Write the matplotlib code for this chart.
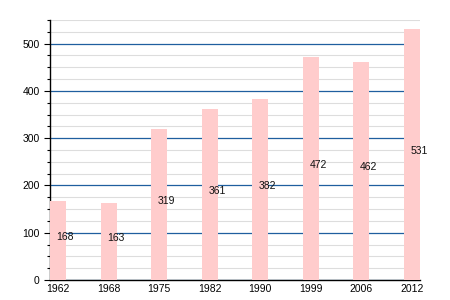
import matplotlib
matplotlib.use("Agg")
import matplotlib.pyplot as plt
from matplotlib.ticker import MultipleLocator

years = ["1962", "1968", "1975", "1982", "1990", "1999", "2006", "2012"]
values = [168, 163, 319, 361, 382, 472, 462, 531]

plt.rcParams['font.family'] = ['Liberation Sans', 'DejaVu Sans']

fig = plt.figure(figsize=(4.5, 3), dpi=100)
ax = fig.add_axes([50/450, 20/300, 370/450, 260/300])

x = list(range(len(years)))
ax.bar(x, values, width=0.316, color="#ffcccc", zorder=3)
for xi, v in zip(x, values):
    ax.annotate(str(v), (xi, v / 2), xytext=(-1, 2.5), textcoords="offset points",
                ha="left", va="center", fontsize=7.5, color="#111111", zorder=4)

ax.set_xlim(-0.158, len(years) - 1 + 0.158)
ax.set_ylim(0, 550)
ax.set_xticks(x)
ax.set_xticklabels(years)
ax.yaxis.set_major_locator(MultipleLocator(100))
ax.yaxis.set_minor_locator(MultipleLocator(25))
ax.grid(axis="y", which="minor", color="#dddddd", linewidth=0.8, zorder=1)
ax.grid(axis="y", which="major", color="#1f5f9f", linewidth=0.9, zorder=2)
ax.set_axisbelow(True)
for s in ["top", "right"]:
    ax.spines[s].set_visible(False)
ax.spines["left"].set_linewidth(1.0)
ax.spines["bottom"].set_linewidth(1.0)
ax.tick_params(axis="both", labelsize=7.5, length=4, width=0.8, colors="black")
ax.tick_params(axis="x", length=0, pad=3)
ax.tick_params(axis="y", which="minor", length=2.5, width=0.8)

fig.savefig("out.png", dpi=100)
